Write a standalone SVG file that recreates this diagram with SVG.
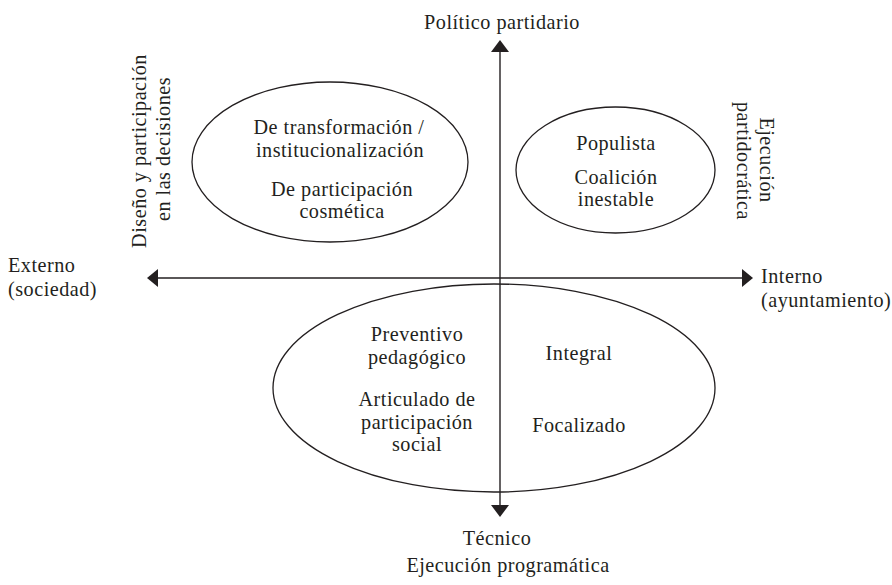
<svg xmlns="http://www.w3.org/2000/svg" width="892" height="585" viewBox="0 0 892 585">
<defs>
<style>
text{font-family:"Liberation Serif","Times New Roman",serif;font-size:20.2px;letter-spacing:0.5px;fill:#231f20}
.c{text-anchor:middle}
.e{fill:none;stroke:#231f20;stroke-width:1.3}
.ax{stroke:#231f20;stroke-width:1.4;fill:none}
.ah{fill:#231f20}
</style>
</defs>
<rect width="892" height="585" fill="#fff"/>
<g id="connectors">
<line class="ax" x1="500" y1="50" x2="500" y2="507"/>
<polygon class="ah" points="500,40 491,52 509,52"/>
<polygon class="ah" points="500,517 491,505 509,505"/>
<line class="ax" x1="157" y1="278" x2="743" y2="278"/>
<polygon class="ah" points="147,278 158,269 158,287"/>
<polygon class="ah" points="753,278 742,269 742,287"/>
</g>
<g id="axis-top"><text class="c" x="502" y="29">Político partidario</text></g>
<g id="axis-bottom"><text class="c" x="497" y="545">Técnico</text><text class="c" x="508" y="572">Ejecución programática</text></g>
<g id="axis-left"><text x="8" y="272">Externo</text><text x="8" y="296">(sociedad)</text></g>
<g id="axis-right"><text x="761" y="283">Interno</text><text x="761" y="307">(ayuntamiento)</text></g>
<g id="label-left">
<text class="c" transform="translate(146,151) rotate(-90)">Diseño y participación</text>
<text class="c" transform="translate(170,149) rotate(-90)">en las decisiones</text>
</g>
<g id="label-right">
<text class="c" transform="translate(760,160) rotate(90)">Ejecución</text>
<text class="c" transform="translate(737,161) rotate(90)">partidocrática</text>
</g>
<g id="node-topleft">
<ellipse class="e" cx="330" cy="162" rx="138" ry="80"/>
<text class="c" x="339" y="134.3">De transformación /</text>
<text class="c" x="340" y="156.7">institucionalización</text>
<text class="c" x="342" y="195.8">De participación</text>
<text class="c" x="342" y="218.2">cosmética</text>
</g>
<g id="node-topright">
<ellipse class="e" cx="615.5" cy="170" rx="99.5" ry="63"/>
<text class="c" x="616" y="150">Populista</text>
<text class="c" x="616" y="183.8">Coalición</text>
<text class="c" x="616" y="206.2">inestable</text>
</g>
<g id="node-bottom">
<ellipse class="e" cx="494" cy="388" rx="221" ry="104"/>
<text class="c" x="417" y="341.3">Preventivo</text>
<text class="c" x="417" y="363.7">pedagógico</text>
<text class="c" x="417" y="406.3">Articulado de</text>
<text class="c" x="417" y="428.7">participación</text>
<text class="c" x="417" y="451.1">social</text>
<text class="c" x="579" y="360">Integral</text>
<text class="c" x="579" y="432">Focalizado</text>
</g>
</svg>
